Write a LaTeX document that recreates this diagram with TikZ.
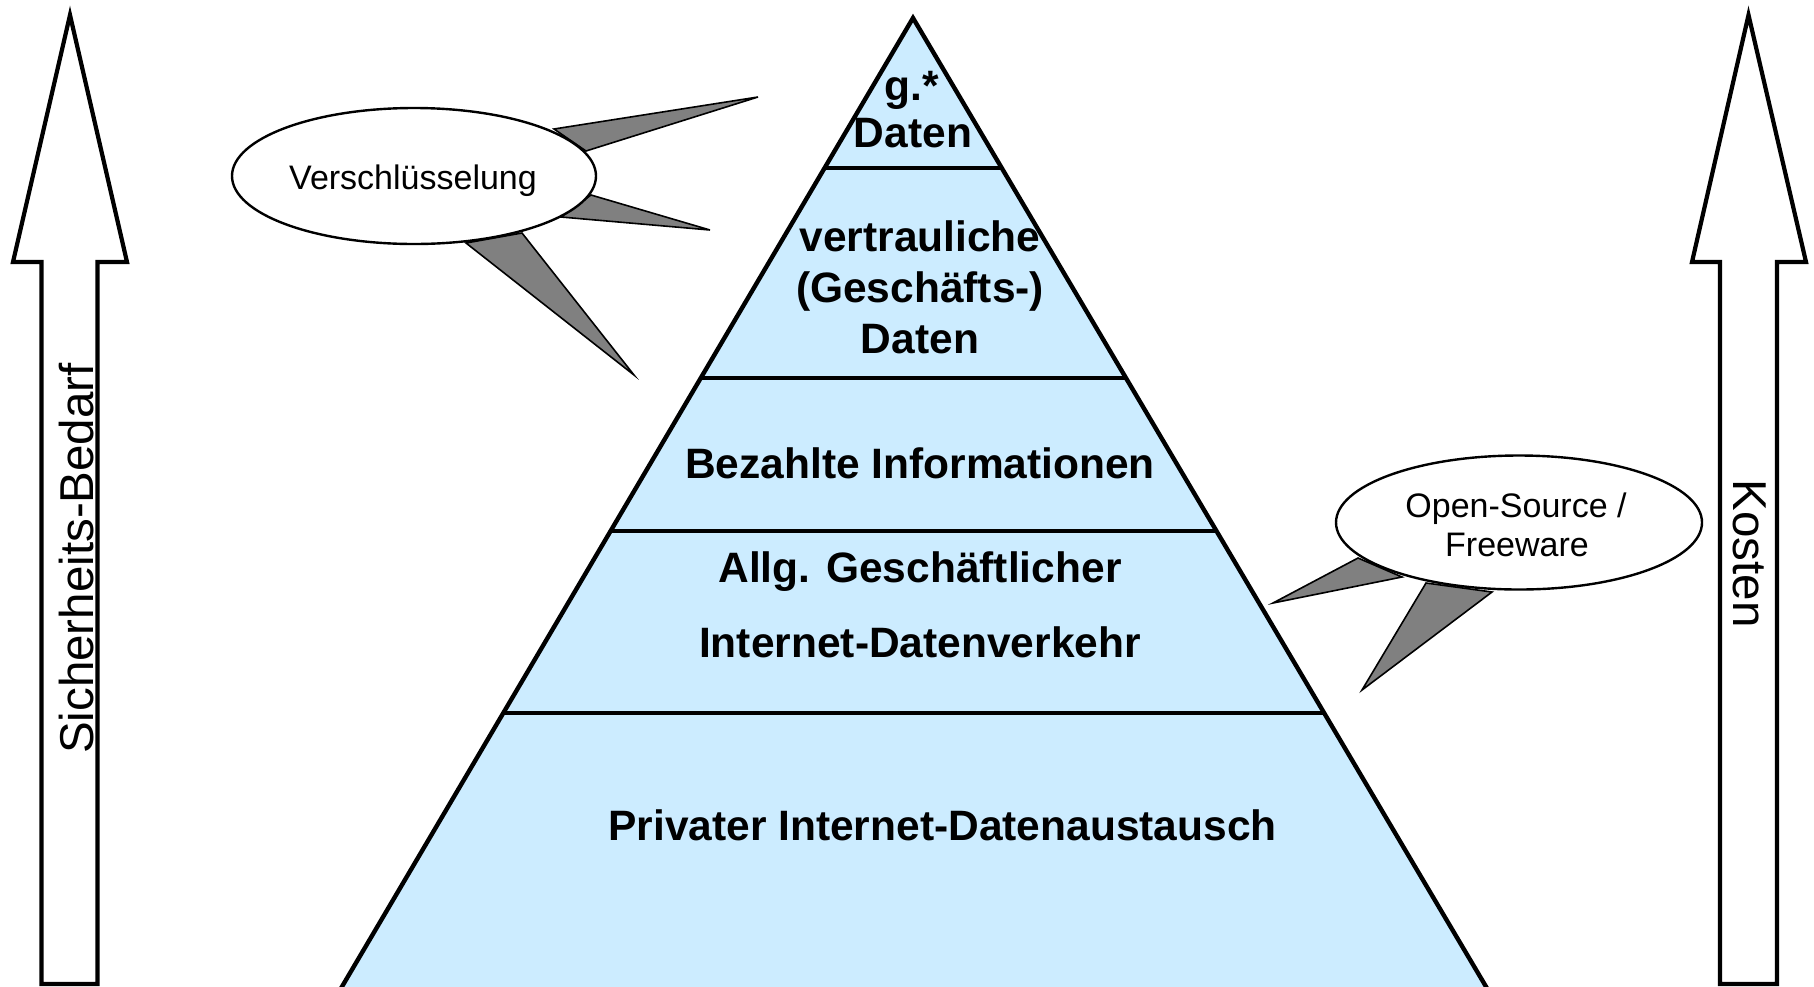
\documentclass[tikz,border=0pt]{standalone}
\usepackage{fontspec}
\setmainfont{Liberation Sans}
\usetikzlibrary{calc,shapes.geometric}
\definecolor{pyrfill}{RGB}{204,236,255}
\definecolor{spikegray}{RGB}{128,128,128}
\begin{document}
\begin{tikzpicture}[x=0.5pt,y=-0.5pt,
  arrowshape/.style={draw=black,line width=2.1pt,fill=white,line join=miter},
  pyr/.style={draw=black,line width=2.2pt,fill=pyrfill,line join=miter},
  pyrline/.style={draw=black,line width=2pt},
  lvl/.style={font=\fontsize{21.25}{25}\selectfont\bfseries,inner sep=0pt,anchor=base},
  spike/.style={draw=black,line width=0.8pt,fill=spikegray,line join=miter},
  bubble/.style={ellipse,draw=black,line width=1.2pt,fill=white,inner sep=0pt},
  bubtxt/.style={inner sep=0pt,anchor=base,font=\fontsize{17}{20}\selectfont},
  sidetxt/.style={font=\fontsize{23.75}{28}\selectfont,inner sep=0pt,anchor=base}]
\useasboundingbox (0,0) rectangle (1814,986);

% side arrows
\draw[arrowshape] (70,15) -- (127,262) -- (97.5,262) -- (97.5,984) -- (41.5,984) -- (41.5,262) -- (13,262) -- cycle;
\draw[arrowshape] (1748.5,15) -- (1806,262) -- (1777,262) -- (1777,984) -- (1720,984) -- (1720,262) -- (1692,262) -- cycle;
\node[sidetxt,rotate=90] (sec) at (93,558.5) {Sicherheits-Bedarf};
\node[sidetxt,rotate=-90] (cost) at (1733,553.5) {Kosten};

% pyramid
\coordinate (apex) at (913,18);
\coordinate (bl) at (340,990);
\coordinate (br) at (1488,990);
\filldraw[pyr] (apex) -- (br) -- (bl) -- cycle;
\foreach \t/\n in {0.1543/a,0.3704/b,0.5278/c,0.7150/d}{
  \coordinate (l\n) at ($(apex)!\t!(bl)$);
  \coordinate (r\n) at ($(apex)!\t!(br)$);
  \draw[pyrline] (l\n) -- (r\n);
}
\node[lvl] (t1a) at (912,100) {g.*};
\node[lvl] (t1b) at (913,147) {Daten};
\node[lvl] (t2a) at (920,251) {vertrauliche};
\node[lvl] (t2b) at (920,302) {(Geschäfts-)};
\node[lvl] (t2c) at (920,353) {Daten};
\node[lvl] (t3) at (920,478) {Bezahlte Informationen};
\node[lvl] (t4a) at (920,582) {Allg. Geschäftlicher};
\node[lvl] (t4b) at (920,657) {Internet-Datenverkehr};
\node[lvl] (t5) at (942.5,840) {Privater Internet-Datenaustausch};

% left callout
\filldraw[spike] (554,129) -- (758,97) -- (586,151) -- cycle;
\filldraw[spike] (591,195) -- (710,230) -- (561,217) -- cycle;
\filldraw[spike] (466,243) -- (634,375) -- (522,233) -- cycle;
\node[bubble,minimum width=182pt,minimum height=68pt] (enc) at (414,176) {};
\node[bubtxt] (enctxt) at (413,189) {Verschlüsselung};

% right callout
\filldraw[spike] (1358,558) -- (1273,603) -- (1402,577) -- cycle;
\filldraw[spike] (1426,583) -- (1362,690) -- (1492,592) -- cycle;
\node[bubble,minimum width=183pt,minimum height=67pt] (oss) at (1519,522.5) {};
\node[bubtxt] (osstxt1) at (1516,517) {Open-Source /};
\node[bubtxt] (osstxt2) at (1517,556) {Freeware};
\end{tikzpicture}
\end{document}
